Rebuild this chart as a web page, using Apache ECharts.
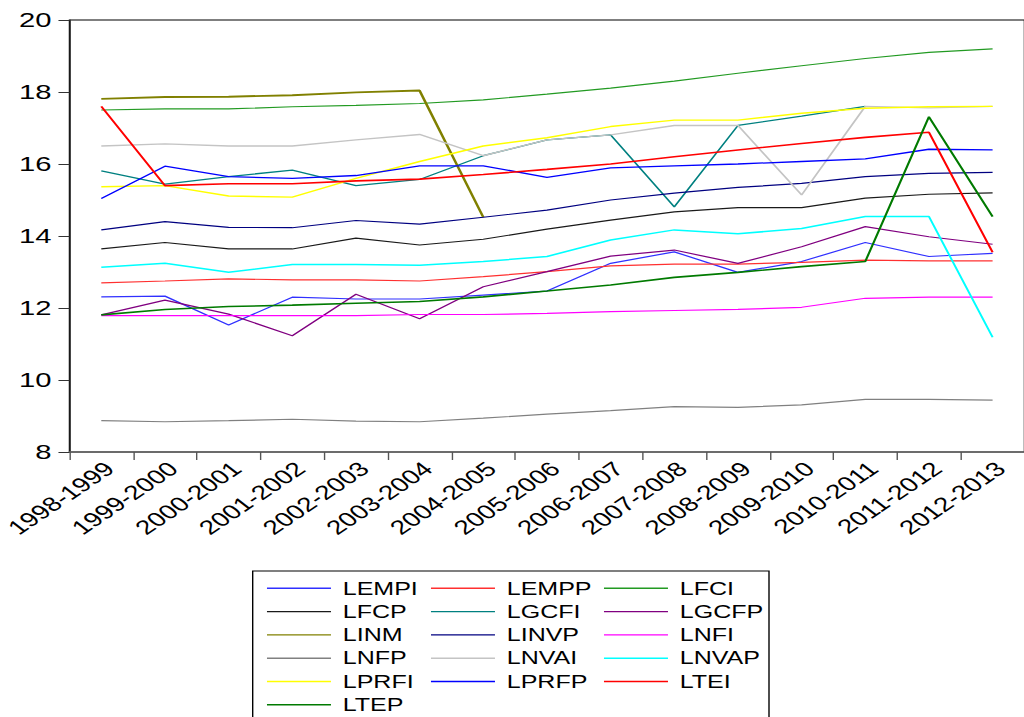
<!DOCTYPE html>
<html>
<head>
<meta charset="utf-8">
<script src="https://cdn.jsdelivr.net/npm/echarts@6/dist/echarts.min.js"></script>
<style>
html,body{margin:0;padding:0;background:#fff;overflow:hidden;width:1024px;height:717px;}
#chart{position:absolute;left:0;top:0;height:717px;transform-origin:0 0;}
</style>
</head>
<body>
<div id="chart"></div>
<script>
// ---- data ----
const categories = ['1998-1999','1999-2000','2000-2001','2001-2002','2002-2003','2003-2004','2004-2005','2005-2006','2006-2007','2007-2008','2008-2009','2009-2010','2010-2011','2011-2012','2012-2013'];
const LEMPI = [12.31, 12.33, 11.53, 12.30, 12.25, 12.25, 12.36, 12.47, 13.24, 13.56, 12.99, 13.29, 13.82, 13.43, 13.52];
const LEMPP = [12.70, 12.75, 12.81, 12.78, 12.78, 12.75, 12.87, 13.01, 13.17, 13.22, 13.22, 13.27, 13.33, 13.31, 13.31];
const LFCI  = [17.50, 17.53, 17.53, 17.59, 17.63, 17.68, 17.78, 17.94, 18.11, 18.30, 18.52, 18.73, 18.93, 19.10, 19.20];
const LFCP  = [13.64, 13.82, 13.64, 13.64, 13.94, 13.75, 13.91, 14.19, 14.44, 14.67, 14.79, 14.79, 15.05, 15.16, 15.20];
const LGCFI = [15.81, 15.44, 15.65, 15.83, 15.40, 15.57, 16.23, 16.67, 16.81, 14.81, 17.07, 17.33, 17.60, null, null];
const LGCFP = [11.81, 12.22, 11.83, 11.23, 12.38, 11.70, 12.59, 13.01, 13.44, 13.61, 13.24, 13.70, 14.26, 13.98, 13.77];
const LINM  = [17.81, 17.86, 17.87, 17.91, 17.99, 18.04, 14.52, null, null, null, null, null, null, null, null];
const LINVP = [14.17, 14.40, 14.24, 14.23, 14.43, 14.33, 14.52, 14.72, 15.00, 15.19, 15.35, 15.46, 15.65, 15.74, 15.77];
const LNFI  = [11.79, 11.79, 11.79, 11.79, 11.79, 11.82, 11.82, 11.85, 11.90, 11.93, 11.96, 12.02, 12.27, 12.30, 12.30];
const LNFP  = [8.87, 8.84, 8.87, 8.91, 8.86, 8.84, 8.94, 9.05, 9.15, 9.26, 9.24, 9.31, 9.46, 9.46, 9.44];
const LNVAI = [16.50, 16.56, 16.50, 16.50, 16.67, 16.82, 16.23, 16.67, 16.81, 17.07, 17.07, 15.14, 17.60, 17.56, 17.60];
const LNVAP = [13.13, 13.24, 12.99, 13.21, 13.21, 13.19, 13.29, 13.43, 13.89, 14.17, 14.06, 14.21, 14.54, 14.54, 11.19];
const LPRFI = [15.37, 15.40, 15.11, 15.08, 15.60, 16.07, 16.50, 16.73, 17.04, 17.22, 17.22, 17.41, 17.55, 17.59, 17.60];
const LPRFP = [15.04, 15.94, 15.65, 15.60, 15.68, 15.95, 15.95, 15.63, 15.89, 15.95, 16.00, 16.07, 16.14, 16.41, 16.39];
const LTEI  = [17.60, 15.40, 15.45, 15.45, 15.53, 15.58, 15.71, 15.85, 16.00, 16.20, 16.39, 16.57, 16.74, 16.88, 13.55];
const LTEP  = [11.81, 11.96, 12.04, 12.08, 12.13, 12.18, 12.31, 12.47, 12.64, 12.85, 12.99, 13.15, 13.29, 17.31, 14.54];
const yTicks = {min: 8, max: 20, interval: 2};

const seriesDefs = [
  ['LEMPI', LEMPI, '#3030ff', 1.2],
  ['LEMPP', LEMPP, '#ff3030', 1.2],
  ['LFCI',  LFCI,  '#229a22', 1.2],
  ['LFCP',  LFCP,  '#1a1a1a', 1.2],
  ['LGCFI', LGCFI, '#008080', 1.3],
  ['LGCFP', LGCFP, '#800080', 1.2],
  ['LINM',  LINM,  '#808000', 1.9],
  ['LINVP', LINVP, '#000080', 1.2],
  ['LNFI',  LNFI,  '#ff00ff', 1.2],
  ['LNFP',  LNFP,  '#808080', 1.2],
  ['LNVAI', LNVAI, '#c4c4c4', 1.4],
  ['LNVAP', LNVAP, '#00ffff', 1.5],
  ['LPRFI', LPRFI, '#ffff00', 1.4],
  ['LPRFP', LPRFP, '#0000ff', 1.3],
  ['LTEI',  LTEI,  '#ff0000', 1.6],
  ['LTEP',  LTEP,  '#007a00', 1.6]
];

// the reference picture is horizontally stretched
const S = 1.39;
const W = 1024 / S;
const el = document.getElementById('chart');
el.style.width = W + 'px';
el.style.transform = 'scaleX(' + S + ')';

const font = 'Liberation Sans, Arial, sans-serif';
const chart = echarts.init(el, null, {renderer: 'svg'});

const cols = [
  ['LEMPI','LFCP','LINM','LNFP','LPRFI','LTEP'],
  ['LEMPP','LGCFI','LINVP','LNVAI','LPRFP'],
  ['LFCI','LGCFP','LNFI','LNVAP','LTEI']
];
const colX = [266 / S, 430 / S, 603 / S];
const legends = cols.map((names, i) => ({
  data: names,
  orient: 'vertical',
  left: colX[i],
  top: 579.3,
  height: 400,
  padding: 0,
  itemWidth: 64 / S,
  itemHeight: 18,
  itemGap: 5.3,
  selectedMode: false,
  itemStyle: {opacity: 0},
  lineStyle: {width: 1.4},
  textStyle: {fontFamily: font, fontSize: 18, color: '#000', lineHeight: 18, padding: [0, 0, 0, 3.5]}
}));

chart.setOption({
  animation: false,
  backgroundColor: '#fff',
  grid: {left: 68 / S, top: 20, width: 965 / S, height: 432, show: true, borderColor: '#000', borderWidth: 1, backgroundColor: 'transparent'},
  legend: legends,
  graphic: [{
    type: 'rect', shape: {x: 252.7 / S, y: 571, width: (769 - 252.7) / S, height: 200},
    style: {fill: 'none', stroke: '#000', lineWidth: 1}, silent: true, z: 100
  }],
  xAxis: {
    type: 'category', data: categories, boundaryGap: true,
    axisLine: {lineStyle: {color: '#666', width: 1.5}},
    axisTick: {show: true, length: 8, lineStyle: {color: '#555', width: 1}},
    axisLabel: {interval: 0, rotate: 43, margin: 19, fontFamily: font, fontSize: 20, color: '#000', padding: [0, -8, 0, 0]},
    splitLine: {show: false}
  },
  yAxis: {
    type: 'value', min: yTicks.min, max: yTicks.max, interval: yTicks.interval,
    axisLine: {show: true, lineStyle: {color: '#333', width: 1}},
    axisTick: {show: true, length: 11 / S, lineStyle: {color: '#333', width: 1}},
    axisLabel: {margin: 13, fontFamily: font, fontSize: 21, color: '#000'},
    splitLine: {show: false}
  },
  series: seriesDefs.map(([name, data, color, w]) => ({
    name, type: 'line', data, symbol: 'none', connectNulls: false,
    color, lineStyle: {color, width: w}, emphasis: {disabled: true}
  }))
});
</script>
</body>
</html>
